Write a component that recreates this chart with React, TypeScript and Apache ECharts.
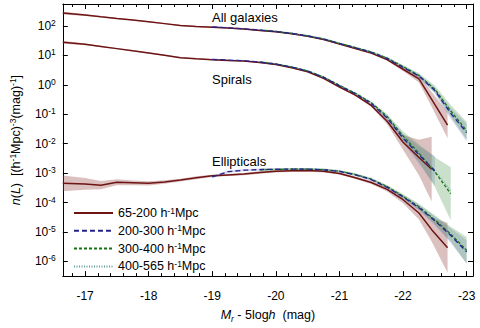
import React, { useEffect, useRef } from 'react';
import * as echarts from 'echarts';

// ---- data ----
const BIN_NAMES = ['65-200', '200-300', '300-400', '400-565'];
const POP_LABELS = ['All galaxies', 'Spirals', 'Ellipticals'];

// magnitudes of the near (65-200) sample and of the far samples
const MAG_NEAR = [-16.65, -17.0, -17.25, -17.5, -17.75, -18.0, -18.25, -18.5, -18.75, -19.0, -19.25, -19.5, -19.75, -20.0, -20.25, -20.5, -20.75, -21.0, -21.25, -21.5, -21.75, -22.0, -22.25, -22.45, -22.7];
const MAG_FAR = [-19.0, -19.25, -19.5, -19.75, -20.0, -20.25, -20.5, -20.75, -21.0, -21.25, -21.5, -21.75, -22.0, -22.25, -22.5, -22.75, -23.0];

// All galaxies
const ALL_65 = [280, 237, 207, 182, 161, 140, 121, 104, 96, 92, 86, 79, 71, 64, 55, 45, 35, 24.5, 17.2, 12.0, 7.2, 3.4, 1.6, 0.32, 0.043];
const ALL_200 = [93, 87, 80, 73, 65, 56, 46, 36, 25.5, 18.2, 12.8, 7.8, 3.95, 2.0, 0.64, 0.107, 0.024];
const ALL_300 = [null, null, null, 73.5, 65.5, 56.5, 46.5, 36.5, 26, 18.7, 13.2, 8.2, 4.2, 2.1, 0.72, 0.13, 0.028];
const ALL_400 = [null, null, null, null, null, 56.5, 46.5, 36.5, 26, 18.5, 13.0, 8.0, 4.1, 2.05, 0.7, 0.12, 0.026];
// error bands (dex)
const BAND_ALL_65 = [0.05, 0.03, 0.02, 0.02, 0.02, 0.02, 0.02, 0.02, 0.02, 0.02, 0.02, 0.02, 0.02, 0.02, 0.02, 0.02, 0.02, 0.02, 0.02, 0.03, 0.04, 0.06, 0.12, 0.25, 0.45];
const BAND_ALL_200 = [0.03, 0.03, 0.03, 0.03, 0.03, 0.03, 0.03, 0.03, 0.03, 0.03, 0.03, 0.04, 0.05, 0.07, 0.1, 0.18, 0.3];
const BAND_ALL_300 = [null, null, null, 0.03, 0.03, 0.03, 0.03, 0.03, 0.03, 0.03, 0.03, 0.04, 0.05, 0.07, 0.12, 0.2, 0.3];

// Spirals
const SP_65 = [28, 24, 20.2, 17.1, 14.4, 12.2, 10.1, 8.4, 7.7, 7.2, 6.8, 6.46, 5.75, 4.95, 3.85, 2.81, 1.66, 0.85, 0.45, 0.2, 0.058, 0.0112, 0.0034, 0.00136];
const SP_200 = [7.4, 7.0, 6.6, 5.95, 5.1, 4.0, 2.95, 1.8, 0.93, 0.5, 0.23, 0.075, 0.0155, 0.0042, 0.0012];
const SP_300 = [null, null, null, 6.0, 5.15, 4.05, 3.0, 1.85, 0.97, 0.52, 0.25, 0.085, 0.0185, 0.0048, 0.0011, 0.0002];
const SP_400 = [null, null, null, null, null, 4.05, 3.0, 1.85, 0.96, 0.52, 0.25, 0.082, 0.018, 0.0047, 0.0012, 0.00025];
const BAND_SP_65 = [0.05, 0.03, 0.02, 0.02, 0.02, 0.02, 0.02, 0.02, 0.02, 0.02, 0.02, 0.02, 0.02, 0.02, 0.02, 0.02, 0.02, 0.02, 0.03, 0.05, 0.1, 0.25, 0.6, 1.1];
const BAND_SP_200 = [0.03, 0.03, 0.03, 0.03, 0.03, 0.03, 0.03, 0.03, 0.03, 0.03, 0.04, 0.08, 0.15, 0.3, 0.5];
const BAND_SP_300 = [null, null, null, 0.03, 0.03, 0.03, 0.03, 0.03, 0.03, 0.03, 0.04, 0.08, 0.15, 0.3, 0.5, 0.9];

// Ellipticals
const EL_65 = [4.5e-4, 4.3e-4, 3.9e-4, 4.9e-4, 4.7e-4, 4.5e-4, 5.0e-4, 5.8e-4, 7.0e-4, 8.1e-4, 8.7e-4, 9.3e-4, 1.05e-3, 1.15e-3, 1.2e-3, 1.22e-3, 1.15e-3, 9.8e-4, 7.0e-4, 4.8e-4, 2.8e-4, 1.25e-4, 4.4e-5, 1.2e-5, 2.9e-6];
const EL_200 = [7.4e-4, 1.12e-3, 1.26e-3, 1.32e-3, 1.35e-3, 1.37e-3, 1.36e-3, 1.3e-3, 1.15e-3, 8.8e-4, 6.0e-4, 3.3e-4, 1.55e-4, 6.7e-5, 2.4e-5, 7.6e-6, 2.1e-6];
const EL_300 = [null, null, null, 1.3e-3, 1.34e-3, 1.36e-3, 1.36e-3, 1.31e-3, 1.17e-3, 9.0e-4, 6.3e-4, 3.5e-4, 1.65e-4, 7.2e-5, 2.6e-5, 8.5e-6, 2.4e-6];
const EL_400 = [null, null, null, null, null, 1.36e-3, 1.36e-3, 1.31e-3, 1.17e-3, 9.0e-4, 6.2e-4, 3.45e-4, 1.62e-4, 7.0e-5, 2.6e-5, 8.2e-6, 2.3e-6];
const BAND_EL_65 = [0.27, 0.2, 0.14, 0.1, 0.08, 0.07, 0.06, 0.05, 0.05, 0.04, 0.04, 0.04, 0.04, 0.04, 0.04, 0.04, 0.04, 0.04, 0.04, 0.05, 0.07, 0.12, 0.22, 0.4, 0.85];
const BAND_EL_200 = [0.04, 0.04, 0.04, 0.04, 0.04, 0.04, 0.04, 0.04, 0.04, 0.04, 0.04, 0.05, 0.07, 0.1, 0.15, 0.25, 0.4];
const BAND_EL_300 = [null, null, null, 0.04, 0.04, 0.04, 0.04, 0.04, 0.04, 0.04, 0.04, 0.05, 0.07, 0.1, 0.15, 0.25, 0.45];

// axis ranges
const X_MIN = -23.1;
const X_MAX = -16.65;
const Y_MIN_EXP = -6.5;
const Y_MAX_EXP = 2.75;

// ---- styles ----
const FONT = "'Liberation Sans', Arial, Helvetica, sans-serif";
const C_RED = '#6e1414';
const C_BLUE = '#24248c';
const C_GREEN = '#137313';
const C_TEAL = '#5e9c9c';
const BAND_RED = 'rgba(150, 70, 70, 0.34)';
const BAND_BLUE = 'rgba(110, 110, 200, 0.28)';
const BAND_GREEN = 'rgba(90, 160, 90, 0.32)';

type V = number | null;

function pairs(mags: number[], vals: V[]) {
  const out: number[][] = [];
  for (let i = 0; i < vals.length; i++) {
    const v = vals[i];
    if (v != null) out.push([mags[i], v]);
  }
  return out;
}

// band as one polygon drawn by a custom series through the axes' own scales
function band(mags: number[], vals: V[], dex: V[], color: string) {
  const rows: number[][] = [];
  for (let i = 0; i < vals.length; i++) {
    const v = vals[i];
    const d = dex[i];
    if (v == null || d == null) continue;
    const f = Math.pow(10, d);
    rows.push([mags[i], v / f, v * f]);
  }
  return {
    type: 'custom', silent: true, z: 1, clip: true,
    xAxisIndex: 0, yAxisIndex: 0,
    encode: { x: 0, y: [1, 2] },
    data: rows,
    renderItem: (params: any, api: any) => {
      if (params.dataIndex !== 0) return null;
      const upper: number[][] = [];
      const lower: number[][] = [];
      for (let j = 0; j < rows.length; j++) {
        const x = api.value(0, j);
        upper.push(api.coord([x, api.value(2, j)]));
        lower.push(api.coord([x, api.value(1, j)]));
      }
      const pts = upper.concat(lower.reverse());
      return {
        type: 'polygon',
        shape: { points: pts },
        style: { fill: color, stroke: 'none' },
      };
    },
  };
}

const LINE_STYLES = [
  { color: C_RED, width: 1.5, type: 'solid' as any },
  { color: C_BLUE, width: 1.3, type: [5, 3] as any },
  { color: C_GREEN, width: 1.2, type: [3, 2] as any },
  { color: C_TEAL, width: 1.2, type: [1, 1.5] as any },
];

function curve(bin: number, mags: number[], vals: V[], z: number) {
  const ls = LINE_STYLES[bin];
  return {
    type: 'line', name: BIN_NAMES[bin], data: pairs(mags, vals), symbol: 'none', silent: true, z,
    lineStyle: { ...ls }, itemStyle: { color: ls.color }, xAxisIndex: 0, yAxisIndex: 0,
  };
}

const supStyle = { fontSize: 8.5, lineHeight: 9, verticalAlign: 'top', fontFamily: FONT, color: '#000' };

export default function App() {
  const ref = useRef<HTMLDivElement>(null);
  useEffect(() => {
    if (!ref.current) return;
    const chart = echarts.init(ref.current, undefined, { renderer: 'svg' });

    const series: any[] = [
      band(MAG_NEAR, ALL_65, BAND_ALL_65, BAND_RED),
      band(MAG_FAR, ALL_200, BAND_ALL_200, BAND_BLUE),
      band(MAG_FAR, ALL_300, BAND_ALL_300, BAND_GREEN),
      band(MAG_NEAR, SP_65, BAND_SP_65, BAND_RED),
      band(MAG_FAR, SP_200, BAND_SP_200, BAND_BLUE),
      band(MAG_FAR, SP_300, BAND_SP_300, BAND_GREEN),
      band(MAG_NEAR, EL_65, BAND_EL_65, BAND_RED),
      band(MAG_FAR, EL_200, BAND_EL_200, BAND_BLUE),
      band(MAG_FAR, EL_300, BAND_EL_300, BAND_GREEN),
      curve(0, MAG_NEAR, ALL_65, 3), curve(0, MAG_NEAR, SP_65, 3), curve(0, MAG_NEAR, EL_65, 3),
      curve(3, MAG_FAR, ALL_400, 4), curve(3, MAG_FAR, SP_400, 4), curve(3, MAG_FAR, EL_400, 4),
      curve(2, MAG_FAR, ALL_300, 5), curve(2, MAG_FAR, SP_300, 5), curve(2, MAG_FAR, EL_300, 5),
      curve(1, MAG_FAR, ALL_200, 6), curve(1, MAG_FAR, SP_200, 6), curve(1, MAG_FAR, EL_200, 6),
    ];

    const xCommon = {
      type: 'value', min: X_MIN, max: X_MAX, inverse: true, splitNumber: 6,
      axisLine: { show: true, onZero: false, lineStyle: { color: '#000', width: 1 } },
      axisTick: { show: true, inside: true, length: 5, lineStyle: { color: '#000', width: 1 } },
      minorTick: { show: true, splitNumber: 5, length: 3, lineStyle: { color: '#000', width: 1 } },
      splitLine: { show: false },
    };
    const yMin = Math.pow(10, Y_MIN_EXP);
    const yMax = Math.pow(10, Y_MAX_EXP);
    const yCommon = {
      type: 'log', logBase: 10, min: yMin, max: yMax,
      axisLine: { show: true, onZero: false, lineStyle: { color: '#000', width: 1 } },
      axisTick: { show: true, inside: true, length: 5, lineStyle: { color: '#000', width: 1 } },
      minorTick: { show: false },
      splitLine: { show: false },
    };

    chart.setOption({
      animation: false,
      backgroundColor: '#fff',
      grid: { left: 57, right: 7, top: 4, bottom: 41, containLabel: false },
      xAxis: [
        {
          ...xCommon, position: 'bottom',
          name: '{it|M}{sub|r} - 5log{it|h}  (mag)',
          nameLocation: 'middle', nameGap: 29,
          nameTextStyle: {
            fontFamily: FONT, fontSize: 12.5, color: '#000', lineHeight: 16,
            rich: {
              it: { fontStyle: 'italic', fontFamily: FONT, fontSize: 12.5, color: '#000', lineHeight: 16 },
              sub: { fontStyle: 'italic', fontFamily: FONT, fontSize: 8.5, color: '#000', lineHeight: 9, verticalAlign: 'bottom' },
            },
          },
          axisLabel: {
            show: true, margin: 14, color: '#000', fontFamily: FONT, fontSize: 12,
            showMinLabel: false, showMaxLabel: false,
            formatter: (v: number) => (Math.abs(v - Math.round(v)) < 1e-6 ? String(Math.round(v)) : ''),
          },
        },
        { ...xCommon, position: 'top', axisLabel: { show: false } },
      ],
      yAxis: [
        {
          ...yCommon, position: 'left',
          name: '{it|n}({it|L})  [(h{sup|-1}Mpc){sup|-3}(mag){sup|-1}]',
          nameLocation: 'middle', nameGap: 36, nameRotate: 90,
          nameTextStyle: {
            fontFamily: FONT, fontSize: 12.5, color: '#000', lineHeight: 16,
            rich: {
              it: { fontStyle: 'italic', fontFamily: FONT, fontSize: 12.5, color: '#000', lineHeight: 16 },
              sup: supStyle,
            },
          },
          axisLabel: {
            show: true, margin: 7, color: '#000',
            showMinLabel: false, showMaxLabel: false,
            formatter: (v: number) => {
              const e = Math.log10(v);
              const r = Math.round(e);
              if (Math.abs(e - r) > 1e-6) return '';
              return '{b|10}{sup|' + r + '}';
            },
            rich: {
              b: { fontFamily: FONT, fontSize: 12, color: '#000', lineHeight: 15 },
              sup: supStyle,
            },
          },
        },
        { ...yCommon, position: 'right', axisLabel: { show: false } },
      ],
      legend: {
        show: true, orient: 'vertical', left: 73, top: 206, padding: 0,
        itemWidth: 39, itemHeight: 14, itemGap: 3.8, selectedMode: false,
        itemStyle: { opacity: 0 },
        data: BIN_NAMES,
        formatter: (name: string) => name + ' h{sup|-1}Mpc',
        textStyle: {
          fontFamily: FONT, fontSize: 12.5, color: '#000', lineHeight: 14,
          rich: { sup: supStyle },
        },
      },
      graphic: [
        { type: 'text', x: 212, y: 17, silent: true, style: { text: POP_LABELS[0], font: '13px ' + FONT, fill: '#000', verticalAlign: 'middle' } },
        { type: 'text', x: 212, y: 79, silent: true, style: { text: POP_LABELS[1], font: '13px ' + FONT, fill: '#000', verticalAlign: 'middle' } },
        { type: 'text', x: 212, y: 161, silent: true, style: { text: POP_LABELS[2], font: '13px ' + FONT, fill: '#000', verticalAlign: 'middle' } },
      ],
      series,
    });
    return () => chart.dispose();
  }, []);
  return <div ref={ref} style={{ position: 'fixed', left: 0, top: 0, width: 480, height: 328, background: '#fff' }} />;
}
